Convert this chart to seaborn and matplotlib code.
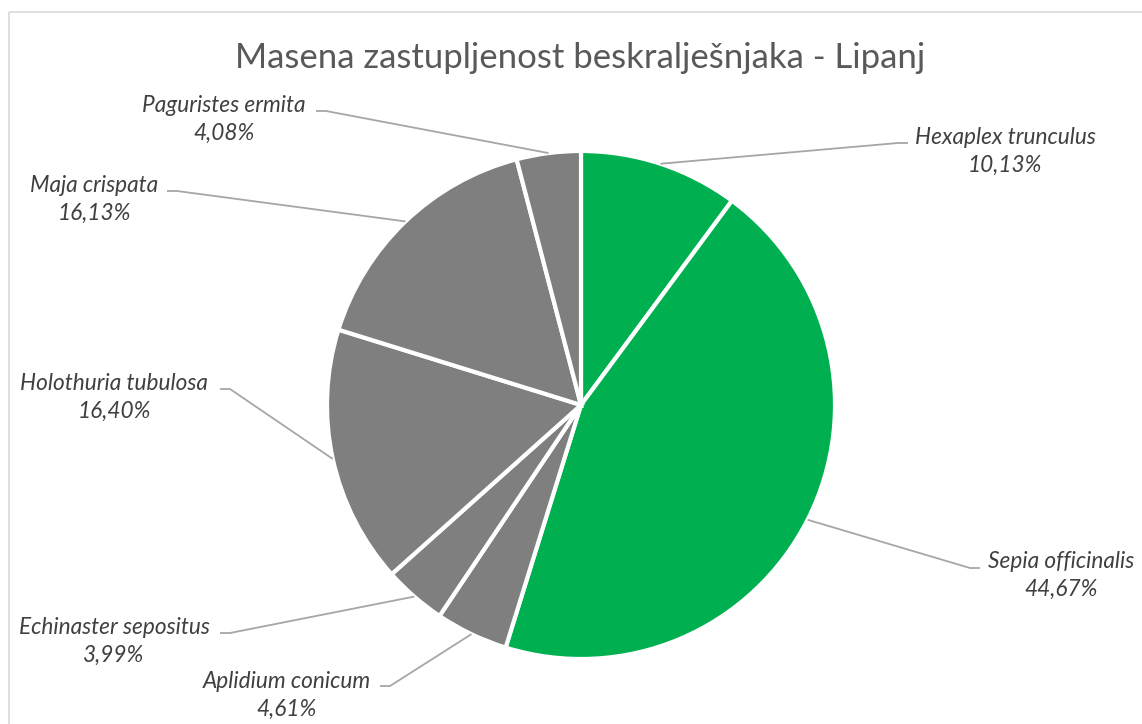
import numpy as np
import matplotlib
matplotlib.use("Agg")
import matplotlib.pyplot as plt
from matplotlib.patches import Rectangle
import seaborn as sns

# Share of invertebrate biomass, June catch
species = ["Hexaplex trunculus", "Sepia officinalis", "Aplidium conicum",
           "Echinaster sepositus", "Holothuria tubulosa", "Maja crispata",
           "Paguristes ermita"]
shares = [10.13, 44.67, 4.61, 3.99, 16.40, 16.13, 4.08]
groups = ["green", "green", "grey", "grey", "grey", "grey", "grey"]
title = "Masena zastupljenost beskralješnjaka - Lipanj"

sns.set_theme(style="white")
plt.rcParams["font.family"] = ["Lato", "DejaVu Sans"]

W, H = 1142, 724
fig = plt.figure(figsize=(W / 100, H / 100), dpi=100)
ax = fig.add_axes([0, 0, 1, 1])
ax.set_xlim(0, W)
ax.set_ylim(0, H)
ax.set_aspect("equal")
ax.axis("off")


def py(y):
    """Convert a top-down pixel row into the axis' bottom-up coordinate."""
    return H - y


# chart frame
fig.patches.append(Rectangle((8.5, py(11.5)), W, -H, transform=ax.transData,
                             fill=False, edgecolor="#D9D9D9", lw=1.2, zorder=0))

palette = {"green": "#00B050", "grey": "#7F7F7F"}
colors = [palette[g] for g in groups]

cx, cy, r = 581, py(405), 254
wedges, _ = ax.pie(shares, colors=colors, startangle=90, counterclock=False,
                   center=(cx, cy), radius=r,
                   wedgeprops=dict(edgecolor="white", linewidth=3))
ax.set_xlim(0, W)
ax.set_ylim(0, H)

ax.text(580, py(58), title, ha="center", va="center", fontsize=25,
        color="#595959")

# label layout: (name centre x, name centre y, elbow x, elbow y, side)
layout = {
    "Hexaplex trunculus": (1005, 137, 898, 143, "right"),
    "Sepia officinalis": (1061, 561, 970, 568, "right"),
    "Aplidium conicum": (287, 681, 390, 686, "left"),
    "Echinaster sepositus": (114, 627, 230, 633, "left"),
    "Holothuria tubulosa": (114, 383, 230, 389, "left"),
    "Maja crispata": (94, 185, 177, 191, "left"),
    "Paguristes ermita": (224, 105, 326, 111, "left"),
}

lead_color = "#A6A6A6"
text_color = "#404040"
for w, name, val in zip(wedges, species, shares):
    tx, ty, ex, ey, side = layout[name]
    ang = np.deg2rad((w.theta1 + w.theta2) / 2)
    sx, sy = cx + r * np.cos(ang), cy + r * np.sin(ang)
    hx = ex + (10 if side == "right" else -10)
    ax.plot([sx, ex, hx], [sy, py(ey), py(ey)], color=lead_color, lw=1.3,
            solid_capstyle="butt", zorder=1)
    ax.text(tx, py(ty), name, ha="center", va="center", fontsize=16.3,
            style="italic", color=text_color)
    pct = f"{val:.2f}%".replace(".", ",")
    ax.text(tx, py(ty + 28), pct, ha="center", va="center", fontsize=16.3,
            style="italic", color=text_color)

fig.savefig("out.png", dpi=100)
